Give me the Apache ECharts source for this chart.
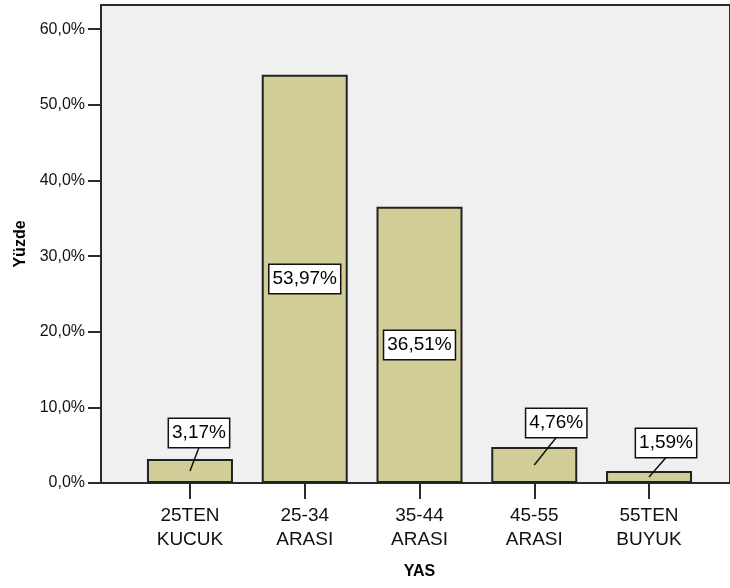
<!DOCTYPE html>
<html>
<head>
<meta charset="utf-8">
<script src="https://cdn.jsdelivr.net/npm/echarts@6/dist/echarts.min.js"></script>
<style>
  html, body { margin: 0; padding: 0; background: #ffffff; }
  #chart { width: 730px; height: 588px; }
</style>
</head>
<body>
<div id="chart"></div>
<script>
// Age groups and their share of respondents (percent)
const categories = ['25TEN KUCUK', '25-34 ARASI', '35-44 ARASI', '45-55 ARASI', '55TEN BUYUK'];
const percentages = [3.17, 53.97, 36.51, 4.76, 1.59];
const yTicks = [0, 10, 20, 30, 40, 50, 60];

// Where a callout box sits relative to the middle of a short bar
const calloutShift = [[9, -38], null, null, [22, -42], [17, -34]];

const FONT = '"Liberation Sans", Arial, Helvetica, sans-serif';
const AXIS_COLOR = '#2b2b2b';
const Y_MAX = 63.2;

const fmtPct = (v, d) => v.toFixed(d).replace('.', ',') + '%';

const chart = echarts.init(document.getElementById('chart'), null, { renderer: 'canvas' });

const option = {
  backgroundColor: '#ffffff',
  animation: false,
  grid: [
    // frame with the value scale
    { left: 101, top: 5, right: -8, bottom: 105, show: true,
      backgroundColor: '#f0f0f0', borderColor: AXIS_COLOR, borderWidth: 2 },
    // band area holding the bars
    { left: 132.6, top: 5, right: 23.6, bottom: 105 }
  ],
  xAxis: [
    { gridIndex: 0, type: 'value', min: 0, max: 1, show: false },
    {
      gridIndex: 1,
      type: 'category',
      data: categories,
      name: 'YAS',
      nameLocation: 'middle',
      nameGap: 81,
      nameTextStyle: { fontFamily: FONT, fontSize: 16, fontWeight: 'bold', color: '#000' },
      axisLine: { show: true, lineStyle: { color: AXIS_COLOR, width: 2 } },
      axisTick: { show: true, alignWithLabel: true, length: 16, lineStyle: { color: AXIS_COLOR, width: 2 } },
      axisLabel: {
        margin: 21,
        fontFamily: FONT,
        fontSize: 19,
        lineHeight: 24,
        color: '#111',
        formatter: (s) => s.replace(' ', '\n')
      },
      splitLine: { show: false }
    }
  ],
  yAxis: [
    {
      gridIndex: 0,
      type: 'value',
      min: 0,
      max: Y_MAX,
      interval: 10,
      name: 'Yüzde',
      nameLocation: 'middle',
      nameGap: 72,
      nameTextStyle: { fontFamily: FONT, fontSize: 16, fontWeight: 'bold', color: '#000' },
      axisLine: { show: true, lineStyle: { color: AXIS_COLOR, width: 2 } },
      axisTick: { show: true, length: 13, customValues: yTicks, lineStyle: { color: AXIS_COLOR, width: 2 } },
      axisLabel: {
        margin: 16,
        customValues: yTicks,
        fontFamily: FONT,
        fontSize: 16,
        color: '#111',
        formatter: (v) => fmtPct(v, 1)
      },
      splitLine: { show: false }
    },
    { gridIndex: 1, type: 'value', min: 0, max: Y_MAX, show: false }
  ],
  series: [
    {
      type: 'bar',
      xAxisIndex: 1,
      yAxisIndex: 1,
      data: percentages,
      barWidth: 86,
      itemStyle: { color: '#d2cd96', borderColor: '#222', borderWidth: 2 },
      z: 2
    },
    {
      // value boxes: centred in tall bars, called out above short ones
      type: 'custom',
      xAxisIndex: 1,
      yAxisIndex: 1,
      data: percentages.map((v, i) => [i, v]),
      z: 5,
      silent: true,
      renderItem: function (params, api) {
        const i = api.value(0);
        const v = api.value(1);
        const top = api.coord([i, v]);
        const base = api.coord([i, 0]);
        const x = top[0];
        const midY = (top[1] + base[1]) / 2;
        const boxH = 29;
        const textStyle = {
          text: fmtPct(v, 2),
          font: '19px ' + FONT,
          fill: '#000',
          align: 'center',
          verticalAlign: 'middle',
          backgroundColor: '#ffffff',
          borderColor: '#111',
          borderWidth: 1.5,
          padding: [3, 3, 2, 3],
          lineHeight: 23
        };
        const shift = calloutShift[i];
        if (!shift) {
          return { type: 'text', x: x, y: midY, style: textStyle };
        }
        const bx = x + shift[0];
        const by = midY + shift[1];
        return {
          type: 'group',
          children: [
            {
              type: 'line',
              shape: { x1: bx, y1: by + boxH / 2, x2: x, y2: midY },
              style: { stroke: '#111', lineWidth: 1.5 }
            },
            { type: 'text', x: bx, y: by, style: textStyle }
          ]
        };
      }
    }
  ]
};

chart.setOption(option);
</script>
</body>
</html>
